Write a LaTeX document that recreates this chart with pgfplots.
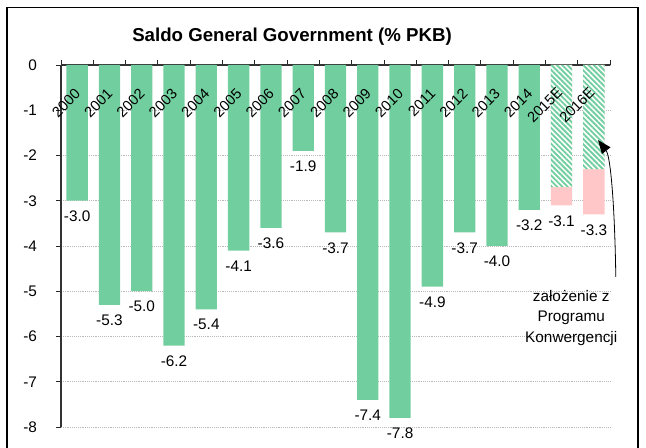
\documentclass[border=0pt]{standalone}
\usepackage{fontspec}
\setmainfont{Liberation Sans}
\usepackage{pgfplots}
\pgfplotsset{compat=1.18}
\usetikzlibrary{patterns.meta,arrows.meta}
\definecolor{barg}{RGB}{113,206,158}
\definecolor{barp}{RGB}{255,199,199}

\begin{document}
\begin{tikzpicture}
\path[use as bounding box] (0,0) rectangle (484.5pt,336pt);
% frame
\draw[line width=1.1pt] (5.25pt,0) -- (5.25pt,330.4pt) -- (478.5pt,330.4pt) -- (478.5pt,0);
\node[font=\bfseries\fontsize{14}{16}\selectfont] at (219pt,308.25pt) {Saldo General Government (\% PKB)};
\begin{axis}[
  at={(45.75pt,15.75pt)}, anchor=south west,
  scale only axis, width=411.75pt, height=271.5pt,
  xmin=-0.5, xmax=16.5, ymin=-8, ymax=0,
  axis x line*=top, axis y line*=left,
  xtick={-0.5,0.5,...,16.5}, xticklabels={},
  ytick={-8,-7,...,0},
  tick align=outside, major tick length=3.5pt,
  tick style={black!85, line width=0.6pt},
  axis line style={black!80, line width=0.8pt},
  ymajorgrids, grid style={densely dotted, gray!55, line width=0.5pt},
  /pgf/number format/assume math mode=true,
  yticklabel style={font=\fontsize{11.5}{13}\selectfont, xshift=-11pt},
  clip=false,
  ybar, bar width=0.66,
]
% actual values
\addplot[fill=barg, draw=none, bar shift=0pt,
  nodes near coords={\pgfmathprintnumber[fixed,fixed zerofill,precision=1]{\pgfplotspointmeta}},
  every node near coord/.style={font=\fontsize{11.5}{13}\selectfont, anchor=north, yshift=-4pt, black}]
  coordinates {(0,-3.0)(1,-5.3)(2,-5.0)(3,-6.2)(4,-5.4)(5,-4.1)(6,-3.6)(7,-1.9)
               (8,-3.7)(9,-7.4)(10,-7.8)(11,-4.9)(12,-3.7)(13,-4.0)(14,-3.2)};
% estimates: total (Programme of Convergence)
\addplot[fill=barp, draw=none, bar shift=0pt,
  nodes near coords={\pgfmathprintnumber[fixed,fixed zerofill,precision=1]{\pgfplotspointmeta}},
  every node near coord/.style={font=\fontsize{11.5}{13}\selectfont, anchor=north, yshift=-4pt, black}]
  coordinates {(15,-3.1)(16,-3.3)};
% estimates: forecast part
\addplot[fill=white, draw=none, bar shift=0pt,
  postaction={pattern={Lines[angle=-45,distance=2.8pt,line width=1.4pt]}, pattern color=barg}]
  coordinates {(15,-2.7)(16,-2.3)};

% year labels
\begin{scope}[every node/.style={rotate=45, anchor=east, inner sep=0pt, font=\fontsize{11}{12}\selectfont}]
\node at (axis cs:0.02,-0.58) {2000};
\node at (axis cs:1.02,-0.58) {2001};
\node at (axis cs:2.02,-0.58) {2002};
\node at (axis cs:3.02,-0.58) {2003};
\node at (axis cs:4.02,-0.58) {2004};
\node at (axis cs:5.02,-0.58) {2005};
\node at (axis cs:6.02,-0.58) {2006};
\node at (axis cs:7.02,-0.58) {2007};
\node at (axis cs:8.02,-0.58) {2008};
\node at (axis cs:9.02,-0.58) {2009};
\node at (axis cs:10.02,-0.58) {2010};
\node at (axis cs:11.02,-0.58) {2011};
\node at (axis cs:12.02,-0.58) {2012};
\node at (axis cs:13.02,-0.58) {2013};
\node at (axis cs:14.02,-0.58) {2014};
\node at (axis cs:14.95,-0.55) {2015E};
\node at (axis cs:15.95,-0.55) {2016E};
\end{scope}

% annotation
\draw[-{Triangle[length=10pt,width=8pt]}, line width=0.6pt]
  (axis cs:16.68,-4.685) .. controls (axis cs:16.64,-2.9) and (axis cs:16.5,-2.0) .. (axis cs:16.13,-1.66);
\node[align=center, font=\fontsize{11.5}{15.4}\selectfont] at (axis cs:15.30,-5.59)
  {założenie z\\Programu\\Konwergencji};
\end{axis}
\end{tikzpicture}
\end{document}
